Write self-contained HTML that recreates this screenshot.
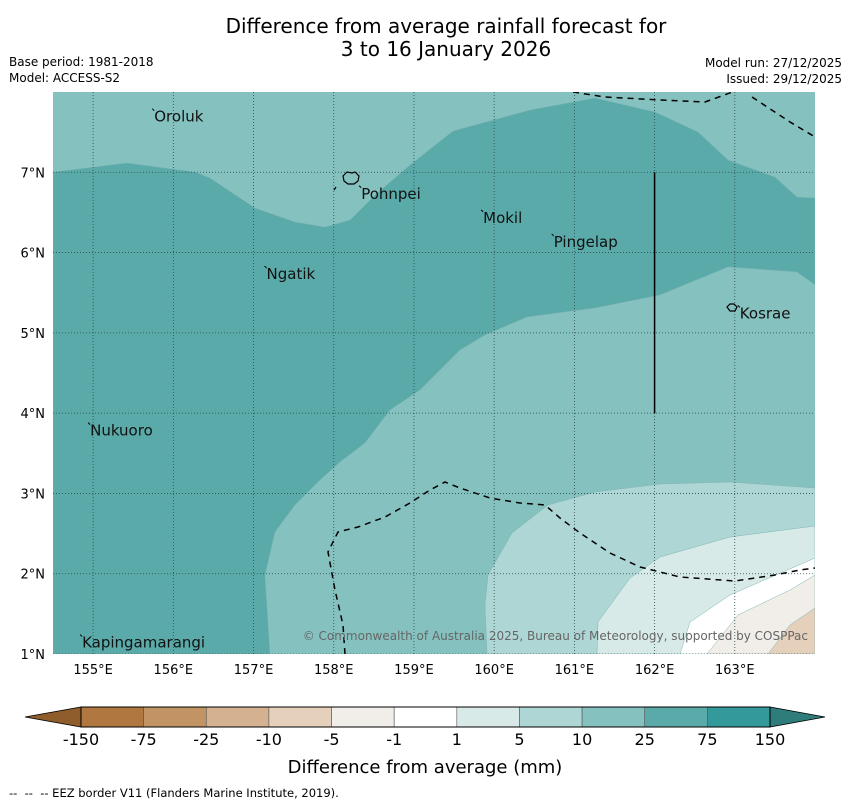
<!DOCTYPE html>
<html><head><meta charset="utf-8"><style>
body{margin:0;background:#fff;font-family:"DejaVu Sans","Liberation Sans",sans-serif;}
svg{display:block}
</style></head><body>
<svg width="850" height="804" xmlns="http://www.w3.org/2000/svg" font-family="DejaVu Sans, Liberation Sans, sans-serif">
<text x="446" y="33" font-size="20" text-anchor="middle">Difference from average rainfall forecast for</text>
<text x="446" y="56" font-size="20" text-anchor="middle">3 to 16 January 2026</text>
<text x="9" y="66" font-size="12">Base period: 1981-2018</text>
<text x="9" y="82" font-size="12">Model: ACCESS-S2</text>
<text x="842" y="67" font-size="12" text-anchor="end">Model run: 27/12/2025</text>
<text x="842" y="83" font-size="12" text-anchor="end">Issued: 29/12/2025</text>
<defs><clipPath id="mc"><rect x="53" y="92" width="762" height="562"/></clipPath></defs>
<g id="map" clip-path="url(#mc)">
<rect x="53" y="92" width="762" height="562" fill="#85c1bf"/>
</g>
<g id="axes"></g>
<g id="cbar"></g>
<text x="425" y="773" font-size="18" text-anchor="middle">Difference from average (mm)</text>
<text x="9" y="797" font-size="11.5" xml:space="preserve">--  --  -- EEZ border V11 (Flanders Marine Institute, 2019).</text>
</svg>
<script>
const NS="http://www.w3.org/2000/svg";
const lonTicks=[155,156,157,158,159,160,161,162,163];
const latTicks=[1,2,3,4,5,6,7];
const cbLevels=["-150","-75","-25","-10","-5","-1","1","5","10","25","75","150"];
const cbColors=["#b07840","#c29464","#d4b190","#e5d0bc","#f1ede8","#ffffff","#d7eae8","#aed6d4","#85c1bf","#5aaaa9","#33999a"];
const lonMin=154.5,lonMax=164.0,latMin=1,latMax=8.0;
function X(lon){return 53+(lon-lonMin)/(lonMax-lonMin)*762;}
function Y(lat){return 654-(lat-latMin)/(latMax-latMin)*562;}
function px2ll(p){return p.map(([x,y])=>[lonMin+(x-53)/762*(lonMax-lonMin),latMin+(654-y)/562*(latMax-latMin)]);}
const region25=px2ll([[53,172],[127,163],[195,172],[210,178],[255,208],[295,222],[325,227],[350,220],[375,195],[410,165],[453,131],[530,110],[595,98],[655,112],[698,132],[728,160],[775,177],[797,197],[815,198],[815,285],[797,272],[728,267],[660,295],[595,308],[527,317],[485,335],[460,350],[445,365],[420,390],[390,410],[365,443],[340,462],[320,480],[295,505],[275,532],[265,575],[270,654],[53,654]]);
const region5=px2ll([[487,654],[485,605],[488,575],[512,533],[548,505],[595,492],[660,484],[730,482],[815,488],[815,654]]);
const region1=px2ll([[597,654],[598,622],[630,578],[660,557],[730,537],[815,526],[815,654]]);
const regionM1=px2ll([[680,654],[690,622],[730,595],[815,558],[815,654]]);
const regionM5=px2ll([[707,654],[738,615],[790,590],[815,575],[815,654]]);
const regionM10=px2ll([[768,654],[790,625],[815,608],[815,654]]);
const eez1=px2ll([[345,654],[343,625],[335,590],[328,552],[338,532],[358,527],[385,517],[410,503],[430,490],[445,482],[460,488],[490,498],[520,503],[545,505],[560,518],[580,533],[610,553],[640,567],[680,577],[735,581],[775,575],[800,570],[815,568]]);
const eez2=px2ll([[573,92],[605,97],[660,100],[705,102],[738,90]]);
const eez3=px2ll([[752,97],[790,122],[815,137]]);
const places=[["Oroluk",155.75,7.63],["Pohnpei",158.33,6.67],["Mokil",159.85,6.37],["Pingelap",160.73,6.07],["Ngatik",157.15,5.67],["Kosrae",163.05,5.18],["Nukuoro",154.95,3.72],["Kapingamarangi",154.85,1.08]];
function el(t,a,p){const e=document.createElementNS(NS,t);for(const k in a)e.setAttribute(k,a[k]);p.appendChild(e);return e;}
function pts(r){return r.map(([lo,la])=>X(lo).toFixed(1)+","+Y(la).toFixed(1)).join(" ");}
const map=document.getElementById("map");
[[region25,"#5aaaa9","region-25-75"],[region5,"#aed6d4","region-5-10"],[region1,"#d7eae8","region-1-5"],[regionM1,"#ffffff","region-near-zero"],[regionM5,"#f1ede8","region-minus-1-5"],[regionM10,"#e5d0bc","region-minus-5-10"]].forEach(([r,c,n])=>{
 const p=el("polygon",{points:pts(r),fill:c,stroke:"#7fb5b3","stroke-width":0.5},map);
 
 
});
lonTicks.forEach(l=>{const g=el("line",{x1:X(l),x2:X(l),y1:92,y2:654,stroke:"#2a4a4a","stroke-width":0.8,"stroke-dasharray":"1,2"},map);
 
 });
latTicks.forEach(l=>{const g=el("line",{x1:53,x2:815,y1:Y(l),y2:Y(l),stroke:"#2a4a4a","stroke-width":0.8,"stroke-dasharray":"1,2"},map);
 
 });
[eez1,eez2,eez3].forEach(r=>{const p=el("polyline",{points:pts(r),fill:"none",stroke:"#000","stroke-width":1.5,"stroke-dasharray":"6,5"},map);
 
 });
const vl=el("line",{x1:X(162),x2:X(162),y1:Y(7),y2:Y(4),stroke:"#000","stroke-width":1.5},map);


const isl1=el("path",{d:"M343,176 l4,-4 5,1 3,-1 4,4 -1,5 -4,3 -6,0 -4,-3z M334,190 l2,-3",fill:"none",stroke:"#000","stroke-width":1.2},map);


const isl2=el("path",{d:"M727,307 l3,-3 4,0 3,3 -2,4 -5,0z",fill:"none",stroke:"#000","stroke-width":1.2},map);


places.forEach(([n,lo,la])=>{
 const t=el("text",{x:X(lo)+1,y:Y(la),"font-size":15,fill:"#111"},map);t.textContent=n;
 
 
 el("line",{x1:X(lo)-1,y1:Y(la)-13,x2:X(lo)+1,y2:Y(la)-11,stroke:"#000","stroke-width":1},map);
});
const cp=el("text",{x:808,y:640,"font-size":12,fill:"#666","text-anchor":"end"},map);
cp.textContent="© Commonwealth of Australia 2025, Bureau of Meteorology, supported by COSPPac";


const ax=document.getElementById("axes");
lonTicks.forEach(l=>{const t=el("text",{x:X(l),y:674,"font-size":13,"text-anchor":"middle"},ax);t.textContent=l+"°E";
 
 });
latTicks.forEach(l=>{const t=el("text",{x:45,y:Y(l)+5,"font-size":13,"text-anchor":"end"},ax);t.textContent=l+"°N";
 
 });
const cb=document.getElementById("cbar");
const x0=81,x1=770,w=(x1-x0)/cbColors.length,cy=707,ch=20;
el("polygon",{points:`25,${cy+ch/2} ${x0},${cy} ${x0},${cy+ch}`,fill:"#8f5c2c",stroke:"#000","stroke-width":0.8},cb);
el("polygon",{points:`825,${cy+ch/2} ${x1},${cy} ${x1},${cy+ch}`,fill:"#2e7d7b",stroke:"#000","stroke-width":0.8},cb);
cbColors.forEach((c,i)=>{const r=el("rect",{x:x0+i*w,y:cy,width:w,height:ch,fill:c,stroke:"#555","stroke-width":0.6},cb);
 
 });
el("rect",{x:x0,y:cy,width:x1-x0,height:ch,fill:"none",stroke:"#000","stroke-width":1},cb);
cbLevels.forEach((v,i)=>{const t=el("text",{x:x0+i*w,y:745,"font-size":16,"text-anchor":"middle"},cb);t.textContent=v;
 
 });
</script>
</body></html>
